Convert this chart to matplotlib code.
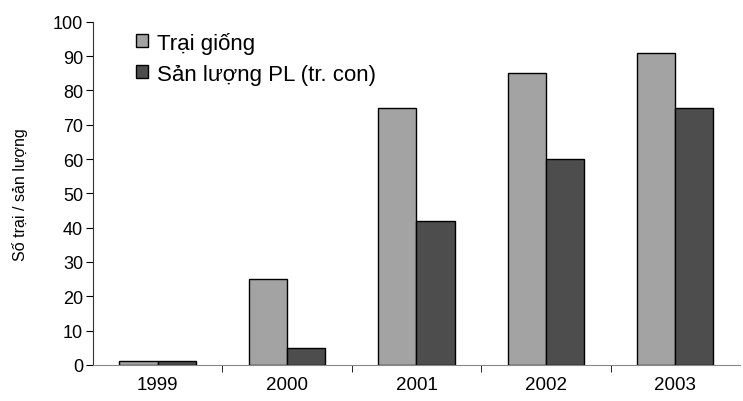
import numpy as np
import matplotlib.pyplot as plt
from matplotlib.ticker import FixedLocator

plt.rcParams['font.family'] = ['Liberation Sans', 'DejaVu Sans']

years = ['1999', '2000', '2001', '2002', '2003']
trai_giong = [1, 25, 75, 85, 91]
san_luong = [1, 5, 42, 60, 75]

fig = plt.figure(figsize=(7.43, 4.02), dpi=100)
ax = fig.add_axes([0.125, 0.09, 0.871, 0.853])

x = np.arange(len(years))
w = 0.295
ax.bar(x - w / 2, trai_giong, w, color='#a3a3a3', edgecolor='black', linewidth=1, label='Trại giống')
ax.bar(x + w / 2, san_luong, w, color='#4d4d4d', edgecolor='black', linewidth=1, label='Sản lượng PL (tr. con)')

ax.set_xlim(-0.5, len(years) - 0.5)
ax.set_ylim(0, 100)
ax.set_yticks(range(0, 101, 10))
ax.set_xticks(x)
ax.set_xticklabels(years, fontsize=13.5)
ax.xaxis.set_minor_locator(FixedLocator(np.arange(0.5, len(years) - 0.5, 1)))
ax.tick_params(axis='x', which='major', length=0, pad=8)
ax.tick_params(axis='x', which='minor', length=5, direction='out', color='black')
ax.tick_params(axis='y', length=5, direction='out', labelsize=13, pad=2)

for s in ['top', 'right']:
    ax.spines[s].set_visible(False)
ax.spines['left'].set_color('#333333')
ax.spines['bottom'].set_color('#888888')

ax.set_ylabel('Số trại / sản lượng', fontsize=11.5, labelpad=18)

ax.legend(loc='upper left', bbox_to_anchor=(0.036, 1.03), frameon=False, fontsize=16,
          handlelength=0.55, handleheight=0.55, handletextpad=0.4, labelspacing=0.45)

fig.savefig('out.png', dpi=100)
